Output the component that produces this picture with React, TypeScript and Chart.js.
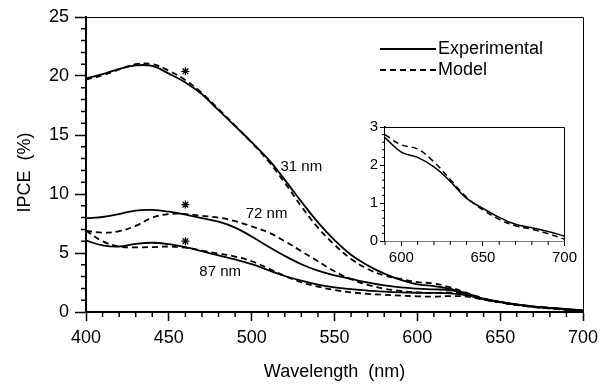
import React, { useEffect, useRef } from "react";
import { Chart, registerables } from "chart.js";
Chart.register(...registerables);

// ---------- data ----------
const wavelengths = [400, 410, 420, 430, 440, 450, 460, 470, 480, 490, 500, 510, 520, 530, 540, 550, 560, 570, 580, 590, 600, 610, 620, 630, 640, 650, 660, 670, 680, 690, 700];

const exp31 = [19.8, 20.15, 20.6, 20.9, 20.85, 20.2, 19.45, 18.45, 17.1, 15.75, 14.4, 12.95, 11.2, 9.35, 7.6, 6.1, 4.85, 3.95, 3.25, 2.72, 2.34, 2.2, 1.95, 1.57, 1.12, 0.86, 0.63, 0.45, 0.35, 0.25, 0.13];
const model31 = [19.7, 20.05, 20.55, 21.0, 21.0, 20.45, 19.65, 18.55, 17.2, 15.8, 14.35, 12.8, 10.95, 8.95, 7.15, 5.7, 4.5, 3.65, 3.1, 2.8, 2.53, 2.42, 2.08, 1.62, 1.15, 0.82, 0.58, 0.42, 0.31, 0.19, 0.05];
const exp72 = [7.95, 8.05, 8.3, 8.6, 8.65, 8.5, 8.25, 7.95, 7.65, 7.15, 6.4, 5.55, 4.75, 4.05, 3.5, 3.1, 2.8, 2.5, 2.25, 2.08, 1.98, 1.92, 1.85, 1.5, 1.1, 0.85, 0.64, 0.47, 0.35, 0.24, 0.12];
const model72 = [6.9, 6.72, 6.85, 7.3, 8.0, 8.3, 8.3, 8.15, 8.0, 7.7, 7.25, 6.75, 6.0, 5.15, 4.3, 3.45, 2.78, 2.3, 1.98, 1.78, 1.66, 1.62, 1.65, 1.45, 1.08, 0.83, 0.6, 0.44, 0.31, 0.19, 0.08];
const exp87 = [6.05, 5.65, 5.55, 5.78, 5.87, 5.75, 5.5, 5.15, 4.8, 4.45, 4.05, 3.55, 3.05, 2.65, 2.32, 2.08, 1.93, 1.82, 1.72, 1.66, 1.63, 1.62, 1.58, 1.4, 1.08, 0.84, 0.62, 0.46, 0.33, 0.22, 0.11];
const model87 = [6.9, 6.0, 5.55, 5.48, 5.5, 5.55, 5.45, 5.2, 4.95, 4.7, 4.3, 3.7, 3.05, 2.52, 2.15, 1.87, 1.67, 1.54, 1.46, 1.39, 1.33, 1.3, 1.35, 1.3, 1.05, 0.82, 0.6, 0.44, 0.3, 0.2, 0.08];

const markerX = [460, 460, 460];
const markerY = [20.4, 9.1, 6.0];

const curveLabels = ["31 nm", "72 nm", "87 nm"];
const curveLabelX = [530, 509, 481];
const curveLabelY = [12.3, 8.3, 3.4];

const legendLabels = ["Experimental", "Model"];
const xTitle = "Wavelength  (nm)";
const yTitle = "IPCE  (%)";

const insetWavelengths = [590, 600, 610, 620, 630, 640, 650, 660, 670, 680, 690, 700];
const insetExp = [2.72, 2.34, 2.2, 1.95, 1.57, 1.12, 0.86, 0.62, 0.44, 0.35, 0.25, 0.13];
const insetModel = [2.8, 2.53, 2.42, 2.08, 1.62, 1.15, 0.82, 0.57, 0.4, 0.31, 0.19, 0.05];
const insetXTicks = [600, 650, 700];

// ---------- helpers ----------
const FONT = "'Liberation Sans', Arial, Helvetica, sans-serif";
const pts = (xs: number[], ys: number[]) => xs.map((x, i) => ({ x, y: ys[i] }));

const lineDs = (label: string, xs: number[], ys: number[], dashed: boolean, width = 1.8) => ({
  label,
  data: pts(xs, ys),
  borderColor: "#000",
  borderWidth: width,
  borderDash: dashed ? [6, 4] : [],
  pointRadius: 0,
  fill: false,
  tension: 0.4,
});

const mainDecor = {
  id: "mainDecor",
  afterDraw(chart: any) {
    const { ctx, chartArea: a, scales } = chart;
    const x = scales.x, y = scales.y;
    ctx.save();
    ctx.strokeStyle = "#000";
    ctx.fillStyle = "#000";
    ctx.lineWidth = 1;
    ctx.beginPath();
    ctx.moveTo(a.left, Math.round(a.top) + 0.5);
    ctx.lineTo(Math.round(a.right) + 0.5, Math.round(a.top) + 0.5);
    ctx.lineTo(Math.round(a.right) + 0.5, a.bottom);
    ctx.stroke();
    ctx.lineWidth = 1.5;
    ctx.beginPath();
    for (let v = 400; v <= 700; v += 10) {
      if (v % 50 === 0) continue;
      const px = x.getPixelForValue(v);
      ctx.moveTo(px, a.bottom);
      ctx.lineTo(px, a.bottom + 5);
    }
    for (let v = 0; v <= 25; v += 1) {
      if (v % 5 === 0) continue;
      const py = y.getPixelForValue(v);
      ctx.moveTo(a.left, py);
      ctx.lineTo(a.left - 5, py);
    }
    ctx.stroke();
    ctx.font = `18px ${FONT}`;
    ctx.textAlign = "center";
    ctx.textBaseline = "middle";
    ctx.fillText(xTitle, (a.left + a.right) / 2, 372);
    ctx.save();
    ctx.translate(25, (a.top + a.bottom) / 2 + 8);
    ctx.rotate(-Math.PI / 2);
    ctx.fillText(yTitle, 0, 0);
    ctx.restore();
    ctx.font = `15px ${FONT}`;
    curveLabels.forEach((t, i) => {
      ctx.fillText(t, x.getPixelForValue(curveLabelX[i]), y.getPixelForValue(curveLabelY[i]));
    });
    ctx.font = `18px ${FONT}`;
    ctx.textAlign = "left";
    const lx0 = a.right - 203, lx1 = a.right - 147;
    const ly = [a.top + 32, a.top + 53];
    ctx.lineWidth = 1.8;
    legendLabels.forEach((t, i) => {
      ctx.setLineDash(i === 0 ? [] : [6, 4]);
      ctx.beginPath();
      ctx.moveTo(lx0, ly[i]);
      ctx.lineTo(lx1, ly[i]);
      ctx.stroke();
      ctx.setLineDash([]);
      ctx.fillText(t, lx1 + 2, ly[i]);
    });
    ctx.restore();
  },
};

const insetDecor = {
  id: "insetDecor",
  beforeDatasetsDraw(chart: any) {
    const { ctx, chartArea: a } = chart;
    ctx.save();
    ctx.fillStyle = "#fff";
    ctx.fillRect(a.left, a.top, a.right - a.left, a.bottom - a.top);
    ctx.restore();
  },
  afterDraw(chart: any) {
    const { ctx, chartArea: a, scales } = chart;
    const x = scales.x, y = scales.y;
    ctx.save();
    ctx.strokeStyle = "#000";
    ctx.lineWidth = 1;
    ctx.beginPath();
    ctx.moveTo(a.left, Math.round(a.top) + 0.5);
    ctx.lineTo(Math.round(a.right) + 0.5, Math.round(a.top) + 0.5);
    ctx.lineTo(Math.round(a.right) + 0.5, a.bottom);
    ctx.stroke();
    ctx.beginPath();
    for (let v = 590; v <= 700; v += 10) {
      if (v % 50 === 0) continue;
      const px = x.getPixelForValue(v);
      ctx.moveTo(px, a.bottom);
      ctx.lineTo(px, a.bottom + 4);
    }
    for (let k = 0; k <= 15; k++) {
      if (k % 5 === 0) continue;
      const py = y.getPixelForValue(k * 0.2);
      ctx.moveTo(a.left, py);
      ctx.lineTo(a.left - 3, py);
    }
    ctx.stroke();
    ctx.restore();
  },
};

export default function App() {
  const mainRef = useRef<HTMLCanvasElement>(null);
  const insetRef = useRef<HTMLCanvasElement>(null);

  useEffect(() => {
    document.body.style.margin = "0";
    const main = new Chart(mainRef.current!, {
      type: "line",
      data: {
        datasets: [
          lineDs("31 nm experimental", wavelengths, exp31, false),
          lineDs("31 nm model", wavelengths, model31, true),
          lineDs("72 nm experimental", wavelengths, exp72, false),
          lineDs("72 nm model", wavelengths, model72, true),
          lineDs("87 nm experimental", wavelengths, exp87, false),
          lineDs("87 nm model", wavelengths, model87, true),
          {
            label: "markers",
            data: pts(markerX, markerY),
            showLine: false,
            pointStyle: "star",
            pointRadius: 4,
            borderColor: "#000",
            borderWidth: 1.3,
          } as any,
        ],
      },
      options: {
        responsive: false,
        animation: false,
        layout: { padding: { left: 0, right: 25, top: 17, bottom: 0 } },
        plugins: { legend: { display: false }, tooltip: { enabled: false } },
        scales: {
          x: {
            type: "linear",
            min: 400,
            max: 700,
            afterFit: (s: any) => { s.height = 73; },
            ticks: { stepSize: 50, color: "#000", font: { family: FONT, size: 18 }, padding: 6, maxRotation: 0 },
            grid: { drawOnChartArea: false, drawTicks: true, tickLength: 9, tickWidth: 1.5, tickColor: "#000" },
            border: { display: true, color: "#000", width: 2 },
          },
          y: {
            type: "linear",
            min: 0,
            max: 25,
            afterFit: (s: any) => { s.width = 86; },
            ticks: { stepSize: 5, color: "#000", font: { family: FONT, size: 18 }, padding: 6 },
            grid: { drawOnChartArea: false, drawTicks: true, tickLength: 11, tickWidth: 1.5, tickColor: "#000" },
            border: { display: true, color: "#000", width: 2 },
          },
        },
      },
      plugins: [mainDecor],
    });

    const inset = new Chart(insetRef.current!, {
      type: "line",
      data: {
        datasets: [
          lineDs("experimental", insetWavelengths, insetExp, false, 1.5),
          lineDs("model", insetWavelengths, insetModel, true, 1.5),
        ],
      },
      options: {
        responsive: false,
        animation: false,
        layout: { padding: { left: 0, right: 12, top: 17, bottom: 0 } },
        plugins: { legend: { display: false }, tooltip: { enabled: false } },
        scales: {
          x: {
            type: "linear",
            min: 590,
            max: 700,
            afterBuildTicks: (s: any) => { s.ticks = insetXTicks.map((v) => ({ value: v })); },
            afterFit: (s: any) => { s.height = 34; },
            ticks: { color: "#000", font: { family: FONT, size: 15 }, padding: 3, maxRotation: 0, autoSkip: false },
            grid: { drawOnChartArea: false, drawTicks: true, tickLength: 5, tickWidth: 1, tickColor: "#000" },
            border: { display: true, color: "#000", width: 1.5 },
          },
          y: {
            type: "linear",
            min: 0,
            max: 3,
            afterFit: (s: any) => { s.width = 45; },
            ticks: { stepSize: 1, color: "#000", font: { family: FONT, size: 15 }, padding: 2 },
            grid: { drawOnChartArea: false, drawTicks: true, tickLength: 5, tickWidth: 1, tickColor: "#000" },
            border: { display: true, color: "#000", width: 1.5 },
          },
        },
      },
      plugins: [insetDecor],
    });

    return () => {
      main.destroy();
      inset.destroy();
    };
  }, []);

  return (
    <div style={{ position: "relative", width: 608, height: 385, background: "#fff" }}>
      <canvas ref={mainRef} width={608} height={385} style={{ position: "absolute", left: 0, top: 0 }} />
      <canvas ref={insetRef} width={240} height={165} style={{ position: "absolute", left: 340, top: 110 }} />
    </div>
  );
}
